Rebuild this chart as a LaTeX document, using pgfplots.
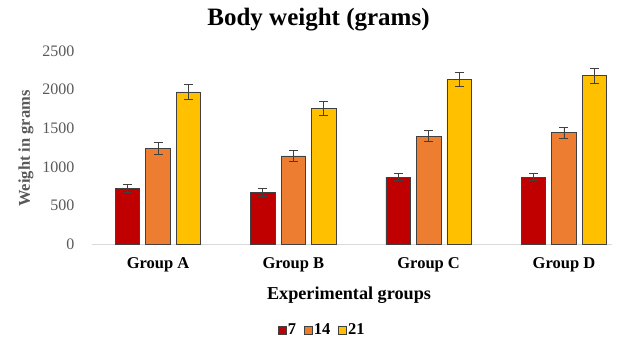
\documentclass[border=0pt]{standalone}
\usepackage{fontspec}
\setmainfont{Liberation Serif}
\usepackage{pgfplots}
\usepackage{pgfplotstable}
\pgfplotsset{compat=1.18}
\definecolor{cR}{HTML}{C00000}
\definecolor{cO}{HTML}{ED7D31}
\definecolor{cY}{HTML}{FFC000}
\definecolor{edge}{HTML}{404040}
\definecolor{errc}{HTML}{404040}
\definecolor{tickc}{HTML}{595959}
\definecolor{basec}{HTML}{D9D9D9}
\pgfplotstableread{
x y e
0 721 50
1 670 50
2 864 45
3 864 45
}\dseven
\pgfplotstableread{
x y e
0 1240 80
1 1140 70
2 1399 70
3 1440 70
}\dfourteen
\pgfplotstableread{
x y e
0 1969 100
1 1758 95
2 2133 95
3 2180 100
}\dtwentyone
\begin{document}
\begin{tikzpicture}
\path[use as bounding box] (-92pt,-97pt) rectangle (528pt,244pt);
\begin{axis}[
  at={(0pt,0pt)}, anchor=south west,
  scale only axis, width=520pt, height=193pt,
  xmin=-0.488, xmax=3.355, ymin=0, ymax=2500,
  axis lines*=left,
  y axis line style={draw=none},
  x axis line style={draw=basec, line width=0.9pt, -},
  major tick length=0pt,
  tick style={draw=none},
  ytick={0,500,1000,1500,2000,2500},
  /pgf/number format/assume math mode=true,
  /pgf/number format/1000 sep={},
  yticklabel style={font=\fontsize{16}{16}\selectfont, text=tickc, anchor=east, xshift=-14pt},
  xtick={0,1,2,3},
  xticklabels={Group A, Group B, Group C, Group D},
  xticklabel style={font=\bfseries\fontsize{16.5}{16.5}\selectfont, anchor=base, yshift=-24pt},
  title={Body weight (grams)},
  title style={font=\bfseries\fontsize{25}{25}\selectfont, at={(rel axis cs:0.5,1)}, anchor=base, xshift=-33.5pt, yshift=20pt},
  xlabel={Experimental groups},
  xlabel style={font=\bfseries\fontsize{18.2}{18.2}\selectfont, at={(rel axis cs:0.5,0)}, anchor=base, xshift=-3pt, yshift=-55pt},
  ylabel={Weight in grams},
  ylabel style={font=\bfseries\fontsize{16.5}{16.5}\selectfont, text=tickc, at={(rel axis cs:0,0.495)}, anchor=center, yshift=66pt},
  ybar, bar width=0.181,
  legend columns=3,
  legend style={at={(rel axis cs:0.442,-0.446)}, anchor=center, draw=none, fill=none,
    font=\bfseries\fontsize{16.5}{16.5}\selectfont,
    /tikz/every even column/.append style={column sep=7pt},
    nodes={inner sep=1pt}},
  legend image code/.code={\draw[#1] (0pt,-4pt) rectangle (8pt,4pt);},
  clip=false,
]
\addplot[fill=cR, draw=edge, line width=0.7pt, bar shift=-0.225,
  error bars/.cd, y dir=both, y explicit,
  error bar style={color=errc, line width=0.8pt},
  error mark options={rotate=90, mark size=4.5pt, color=errc, line width=0.8pt}]
  table[x=x, y=y, y error=e] {\dseven};
\addplot[fill=cO, draw=edge, line width=0.7pt, bar shift=0,
  error bars/.cd, y dir=both, y explicit,
  error bar style={color=errc, line width=0.8pt},
  error mark options={rotate=90, mark size=4.5pt, color=errc, line width=0.8pt}]
  table[x=x, y=y, y error=e] {\dfourteen};
\addplot[fill=cY, draw=edge, line width=0.7pt, bar shift=0.225,
  error bars/.cd, y dir=both, y explicit,
  error bar style={color=errc, line width=0.8pt},
  error mark options={rotate=90, mark size=4.5pt, color=errc, line width=0.8pt}]
  table[x=x, y=y, y error=e] {\dtwentyone};
\legend{7,14,21}
\end{axis}
\end{tikzpicture}
\end{document}
